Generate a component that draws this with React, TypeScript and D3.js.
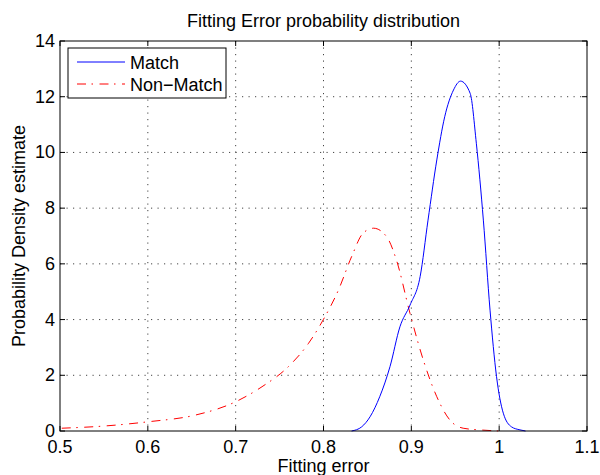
import React from "react";
import * as d3 from "d3";

const matchX = [0.832, 0.8435, 0.853, 0.864, 0.8757, 0.887, 0.8985, 0.91, 0.919, 0.929, 0.938, 0.948, 0.956, 0.967, 0.974, 0.982, 0.9896, 0.997, 1.0047, 1.014, 1.0237, 1.03];
const matchY = [0, 0.15, 0.51, 1.23, 2.31, 3.74, 4.52, 5.54, 7.57, 9.73, 11.28, 12.24, 12.56, 12.12, 10.33, 7.57, 4.34, 1.95, 0.64, 0.15, 0.04, 0];

const nonMatchX = [0.502, 0.551, 0.6, 0.654, 0.7, 0.73, 0.76, 0.783, 0.8, 0.817, 0.832, 0.845, 0.857, 0.872, 0.883, 0.8985, 0.9136, 0.929, 0.944, 0.959, 0.978, 1.0];
const nonMatchY = [0.1, 0.18, 0.33, 0.57, 1.05, 1.59, 2.31, 3.15, 4.01, 5.06, 6.26, 7.1, 7.28, 6.97, 6.14, 4.22, 2.55, 1.23, 0.39, 0.1, 0.04, 0];

const xTicks = [0.5, 0.6, 0.7, 0.8, 0.9, 1, 1.1];
const yTicks = [0, 2, 4, 6, 8, 10, 12, 14];

const title = "Fitting Error probability distribution";
const xLabel = "Fitting error";
const yLabel = "Probability Density estimate";
const legendLabels = ["Match", "Non\u2212Match"];

export default function App() {
  const W = 600, H = 475;
  const m = { l: 60, r: 587, t: 41, b: 431 };
  const x = d3.scaleLinear().domain([0.5, 1.1]).range([m.l, m.r]);
  const y = d3.scaleLinear().domain([0, 14]).range([m.b, m.t]);
  const line = d3.line<[number, number]>().x(d => x(d[0])).y(d => y(d[1])).curve(d3.curveMonotoneX);
  const mPts = matchX.map((v, i) => [v, matchY[i]] as [number, number]);
  const nPts = nonMatchX.map((v, i) => [v, nonMatchY[i]] as [number, number]);
  const font = "'Liberation Sans', Arial, Helvetica, sans-serif";
  const fs = 18;
  const dashDot = "9,5.5,1.5,6.5";
  const gridDash = "1.2,5.3";
  const fmt = (v: number) => String(v);
  return (
    <svg width={W} height={H} style={{ position: "absolute", left: 0, top: 0, background: "#fff" }} fontFamily={font}>
      <rect x={0} y={0} width={W} height={H} fill="#fff" />
      {/* grid */}
      {xTicks.slice(1, -1).map(t => (
        <line key={"gx" + t} x1={x(t)} x2={x(t)} y1={m.t} y2={m.b} stroke="#444" strokeWidth={1} strokeDasharray={gridDash} />
      ))}
      {yTicks.slice(1, -1).map(t => (
        <line key={"gy" + t} x1={m.l} x2={m.r} y1={y(t)} y2={y(t)} stroke="#444" strokeWidth={1} strokeDasharray={gridDash} />
      ))}
      {/* curves */}
      <path d={line(nPts) || ""} fill="none" stroke="#ff0000" strokeWidth={1} strokeDasharray={dashDot} />
      <path d={line(mPts) || ""} fill="none" stroke="#0000ff" strokeWidth={1} />
      {/* ticks */}
      {xTicks.map(t => (
        <g key={"tx" + t}>
          <line x1={x(t)} x2={x(t)} y1={m.b} y2={m.b - 5} stroke="#000" />
          <line x1={x(t)} x2={x(t)} y1={m.t} y2={m.t + 5} stroke="#000" />
          <text x={x(t)} y={453} textAnchor="middle" fontSize={fs}>{fmt(t)}</text>
        </g>
      ))}
      {yTicks.map(t => (
        <g key={"ty" + t}>
          <line x1={m.l} x2={m.l + 5} y1={y(t)} y2={y(t)} stroke="#000" />
          <line x1={m.r} x2={m.r - 5} y1={y(t)} y2={y(t)} stroke="#000" />
          <text x={m.l - 5} y={y(t) + 6} textAnchor="end" fontSize={fs}>{t}</text>
        </g>
      ))}
      {/* box */}
      <rect x={m.l} y={m.t} width={m.r - m.l} height={m.b - m.t} fill="none" stroke="#000" strokeWidth={1} />
      {/* labels */}
      <text x={(m.l + m.r) / 2} y={27} textAnchor="middle" fontSize={fs}>{title}</text>
      <text x={(m.l + m.r) / 2} y={472} textAnchor="middle" fontSize={fs}>{xLabel}</text>
      <text transform={`translate(25, ${(m.t + m.b) / 2}) rotate(-90)`} textAnchor="middle" fontSize={fs}>{yLabel}</text>
      {/* legend */}
      <rect x={68} y={48} width={158} height={50} fill="#fff" stroke="#000" strokeWidth={1} />
      <line x1={77} x2={125} y1={62} y2={62} stroke="#0000ff" strokeWidth={1} />
      <line x1={77} x2={125} y1={84} y2={84} stroke="#ff0000" strokeWidth={1} strokeDasharray={dashDot} />
      <text x={130} y={68.5} fontSize={fs}>{legendLabels[0]}</text>
      <text x={130} y={90.5} fontSize={fs}>{legendLabels[1]}</text>
    </svg>
  );
}
